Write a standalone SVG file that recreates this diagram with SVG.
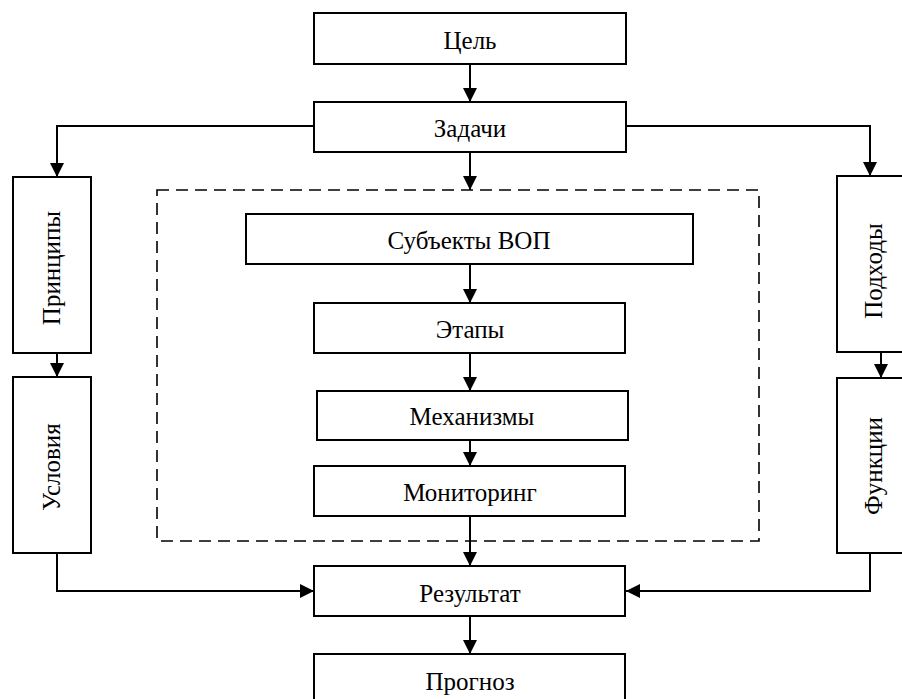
<svg xmlns="http://www.w3.org/2000/svg" width="902" height="699" viewBox="0 0 902 699">
<defs>
<marker id="arr" viewBox="0 0 14 14" refX="14" refY="7" markerWidth="14" markerHeight="14" markerUnits="userSpaceOnUse" orient="auto">
<path d="M0,0 L14,7 L0,14 Z" fill="#000"/>
</marker>
<style>
.box{fill:#fff;stroke:#000;stroke-width:2}
text{font-family:'Liberation Serif','DejaVu Serif','Times New Roman',serif;font-size:25px;fill:#000;text-anchor:middle}
.c{fill:none;stroke:#000;stroke-width:2}
.dash{fill:none;stroke:#000;stroke-width:1.6;stroke-dasharray:12 7}
</style>
</defs>
<rect width="902" height="699" fill="#fff"/>
<g id="group-box">
<rect class="dash" x="157" y="190" width="602" height="351"/>
</g>
<g id="connectors">
<line class="c" x1="470" y1="64" x2="470" y2="102" marker-end="url(#arr)"/>
<line class="c" x1="470" y1="152" x2="470" y2="190" marker-end="url(#arr)"/>
<polyline class="c" points="314,126 57,126 57,177" marker-end="url(#arr)"/>
<polyline class="c" points="626,126 870,126 870,176" marker-end="url(#arr)"/>
<line class="c" x1="57" y1="353" x2="57" y2="377" marker-end="url(#arr)"/>
<line class="c" x1="881" y1="352" x2="881" y2="378" marker-end="url(#arr)"/>
<line class="c" x1="470" y1="265" x2="470" y2="303" marker-end="url(#arr)"/>
<line class="c" x1="470" y1="353" x2="470" y2="391" marker-end="url(#arr)"/>
<line class="c" x1="470" y1="440" x2="470" y2="466" marker-end="url(#arr)"/>
<line class="c" x1="470" y1="516" x2="470" y2="566" marker-end="url(#arr)"/>
<polyline class="c" points="57,553 57,591 314,591" marker-end="url(#arr)"/>
<polyline class="c" points="870,553 870,591 626,591" marker-end="url(#arr)"/>
<line class="c" x1="470" y1="616" x2="470" y2="654" marker-end="url(#arr)"/>
</g>
<g id="n-goal"><rect class="box" x="314" y="13" width="312" height="51"/><text x="470" y="49">Цель</text></g>
<g id="n-tasks"><rect class="box" x="314" y="102" width="312" height="50"/><text x="470" y="137">Задачи</text></g>
<g id="n-principles"><rect class="box" x="13" y="177" width="78" height="176"/><text transform="translate(52,268) rotate(-90)" x="0" y="8">Принципы</text></g>
<g id="n-conditions"><rect class="box" x="13" y="377" width="78" height="176"/><text transform="translate(52,467) rotate(-90)" x="0" y="8">Условия</text></g>
<g id="n-approaches"><rect class="box" x="837" y="176" width="80" height="176"/><text transform="translate(874,271) rotate(-90)" x="0" y="8">Подходы</text></g>
<g id="n-functions"><rect class="box" x="837" y="378" width="80" height="175"/><text transform="translate(874,466) rotate(-90)" x="0" y="8">Функции</text></g>
<g id="n-subjects"><rect class="box" x="246" y="214" width="447" height="50"/><text x="469" y="249">Субъекты ВОП</text></g>
<g id="n-stages"><rect class="box" x="314" y="303" width="311" height="50"/><text x="470" y="338">Этапы</text></g>
<g id="n-mechanisms"><rect class="box" x="317" y="391" width="311" height="49"/><text x="472" y="425">Механизмы</text></g>
<g id="n-monitoring"><rect class="box" x="314" y="466" width="311" height="50"/><text x="470" y="501">Мониторинг</text></g>
<g id="n-result"><rect class="box" x="314" y="566" width="311" height="50"/><text x="470" y="602">Результат</text></g>
<g id="n-forecast"><rect class="box" x="314" y="654" width="311" height="50"/><text x="470" y="690">Прогноз</text></g>
</svg>
